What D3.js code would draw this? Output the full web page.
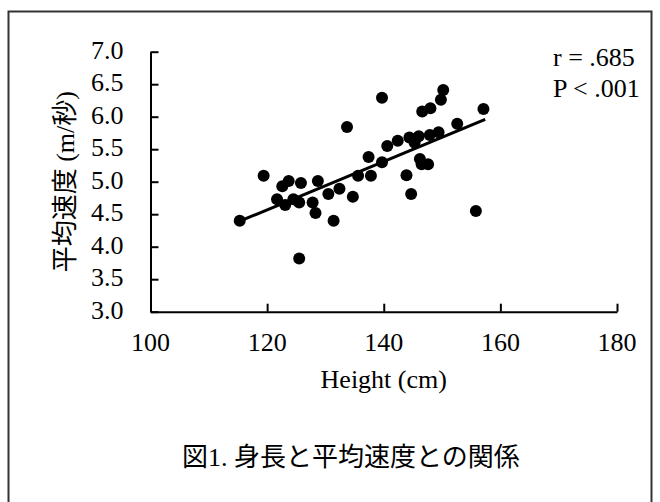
<!DOCTYPE html>
<html>
<head>
<meta charset="utf-8">
<script src="https://cdn.jsdelivr.net/npm/d3@7"></script>
<style>
  body { margin: 0; background: #fff; }
  text { font-family: "Liberation Serif", "Noto Sans CJK JP", serif; fill: #000; }
</style>
</head>
<body>
<svg id="chart" width="660" height="502"></svg>
<script>
// heights (cm) and average speeds (m/s)
const heights = [115.3, 119.4, 121.7, 122.6, 123.1, 123.7, 124.5, 125.5, 125.8, 125.5,
  127.8, 128.3, 128.7, 130.5, 131.4, 132.4, 133.7, 134.7, 135.6, 137.4,
  137.8, 139.7, 139.7, 140.6, 142.4, 143.9, 144.4, 144.7, 145.3, 146.0,
  146.2, 146.6, 146.5, 147.6, 148.0, 147.9, 149.4, 149.8, 150.2, 152.6,
  155.8, 157.1];
const speeds = [4.40, 5.09, 4.73, 4.93, 4.64, 5.01, 4.73, 4.68, 4.98, 3.82,
  4.68, 4.52, 5.01, 4.81, 4.40, 4.89, 5.84, 4.77, 5.09, 5.38,
  5.09, 6.29, 5.30, 5.55, 5.63, 5.10, 5.68, 4.81, 5.60, 5.70,
  5.35, 6.08, 5.27, 5.27, 6.13, 5.72, 5.76, 6.26, 6.41, 5.89,
  4.55, 6.12];

// trend line end points
const fitX = [115.5, 157.4];
const fitY = [4.40, 5.96];

const xTicks = [100, 120, 140, 160, 180];
const yTicks = [3.0, 3.5, 4.0, 4.5, 5.0, 5.5, 6.0, 6.5, 7.0];
const statLines = ["r = .685", "P < .001"];

const svg = d3.select("#chart");
const margin = { left: 150.5, top: 51.7, right: 43, bottom: 190.3 };
const width = +svg.attr("width"), height = +svg.attr("height");

const x = d3.scaleLinear().domain([100, 180]).range([margin.left, width - margin.right]);
const y = d3.scaleLinear().domain([3, 7]).range([height - margin.bottom, margin.top]);

// outer frame
svg.append("rect")
  .attr("x", 8.5).attr("y", 11.5)
  .attr("width", 643).attr("height", 500)
  .attr("fill", "none")
  .attr("stroke", "#333")
  .attr("stroke-width", 2);

// x axis (ticks pointing up)
const xAxis = svg.append("g")
  .attr("transform", `translate(0,${y(3)})`)
  .call(d3.axisTop(x).tickValues(xTicks).tickSizeInner(8).tickSizeOuter(0).tickFormat(""));
xAxis.selectAll("path, line").attr("stroke", "#000").attr("stroke-width", 2);

xAxis.selectAll(".tl").data(xTicks).enter().append("text")
  .attr("x", d => x(d))
  .attr("y", 39)
  .attr("text-anchor", "middle")
  .style("font-size", "26px")
  .text(d => d);

// y axis (ticks pointing right)
const yAxis = svg.append("g")
  .attr("transform", `translate(${x(100)},0)`)
  .call(d3.axisRight(y).tickValues(yTicks).tickSizeInner(8).tickSizeOuter(0).tickFormat(""));
yAxis.selectAll("path, line").attr("stroke", "#000").attr("stroke-width", 2);

yAxis.selectAll(".tl").data(yTicks).enter().append("text")
  .attr("x", -27)
  .attr("y", d => y(d) + 7)
  .attr("text-anchor", "end")
  .style("font-size", "26px")
  .text(d => d.toFixed(1));

// trend line
svg.append("line")
  .attr("x1", x(fitX[0])).attr("y1", y(fitY[0]))
  .attr("x2", x(fitX[1])).attr("y2", y(fitY[1]))
  .attr("stroke", "#000")
  .attr("stroke-width", 3);

// points
svg.append("g").selectAll("circle")
  .data(heights.map((h, i) => [h, speeds[i]]))
  .enter().append("circle")
  .attr("cx", d => x(d[0]))
  .attr("cy", d => y(d[1]))
  .attr("r", 6)
  .attr("fill", "#000");

// stats
svg.selectAll(".stat").data(statLines).enter().append("text")
  .attr("x", 553)
  .attr("y", (d, i) => 66 + i * 30.5)
  .style("font-size", "26px")
  .text(d => d);

// axis titles
svg.append("text")
  .attr("x", (x(100) + x(180)) / 2)
  .attr("y", 388)
  .attr("text-anchor", "middle")
  .style("font-size", "26px")
  .text("Height (cm)");

svg.append("text")
  .attr("transform", `translate(65,${(y(3) + y(7)) / 2}) rotate(-90)`)
  .attr("text-anchor", "middle")
  .attr("dy", "0.35em")
  .style("font-size", "26px")
  .text("平均速度 (m/秒)");

// caption
svg.append("text")
  .attr("x", 182)
  .attr("y", 466)
  .style("font-size", "26px")
  .text("図1. 身長と平均速度との関係");
</script>
</body>
</html>
